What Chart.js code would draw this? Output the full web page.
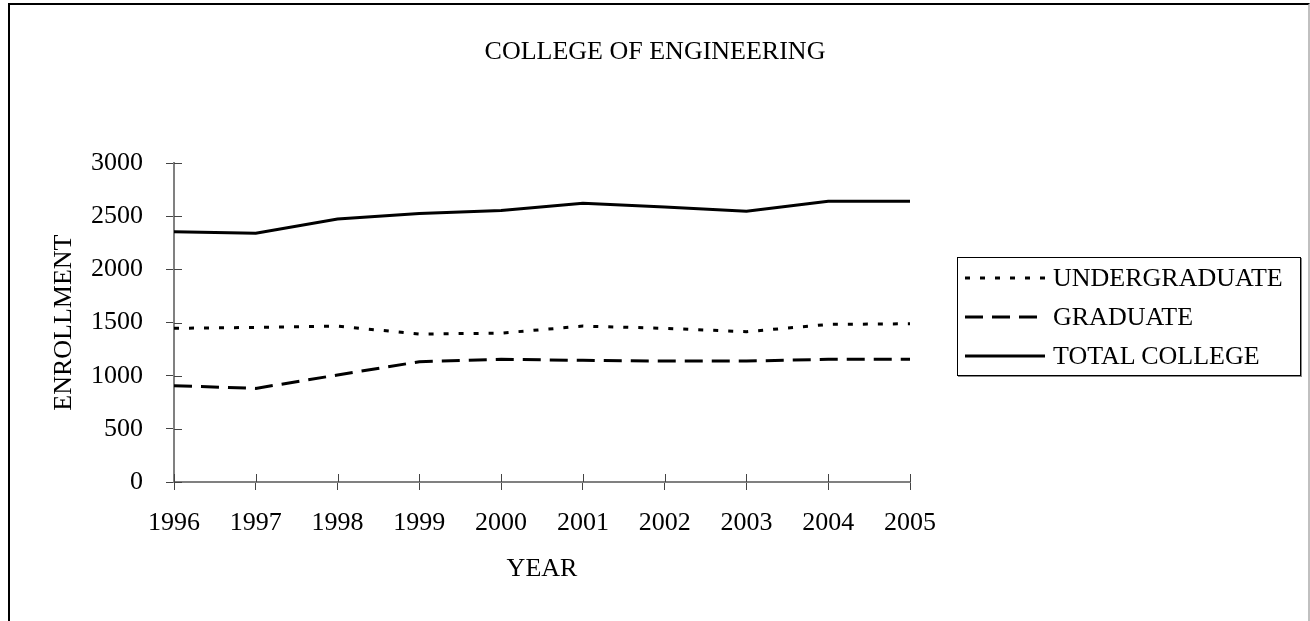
<!DOCTYPE html>
<html>
<head>
<meta charset="utf-8">
<script src="https://cdn.jsdelivr.net/npm/chart.js@4/dist/chart.umd.min.js"></script>
<style>
    html, body { margin: 0; padding: 0; background: #fff; overflow: hidden; }
    #wrap { position: relative; width: 1310px; height: 621px; }
    #frame {
        position: absolute; left: 8px; top: 3px; width: 1298px; height: 700px;
        border-left: 2px solid #000; border-top: 2px solid #000; border-right: 2px solid #c0c0c0;
    }
    #chart { position: absolute; left: 0; top: 0; }
    #legend {
        position: absolute; left: 957px; top: 257px; width: 342px; height: 117px;
        border: 1px solid #000; box-shadow: 1px 1px 0 #888; background: #fff;
        font-family: 'Liberation Serif', 'Times New Roman', serif; font-size: 26px; color: #000;
    }
    .item { position: absolute; left: 0; height: 30px; width: 100%; }
    .item svg { position: absolute; left: 7px; top: 0; }
    .item span { position: absolute; left: 95px; top: 0; line-height: 30px; white-space: nowrap; }
</style>
</head>
<body>
<div id="wrap">
    <div id="frame"></div>
    <canvas id="chart" width="1310" height="621"></canvas>
    <div id="legend"></div>
</div>
<script>
// chart data
const years = ['1996', '1997', '1998', '1999', '2000', '2001', '2002', '2003', '2004', '2005'];
const undergraduate = [1446, 1455, 1467, 1392, 1401, 1467, 1446, 1414, 1483, 1489];
const graduate = [906, 881, 1007, 1132, 1154, 1145, 1138, 1138, 1154, 1154];
const totalCollege = [2355, 2340, 2474, 2527, 2556, 2622, 2587, 2547, 2643, 2643];
const seriesNames = ['UNDERGRADUATE', 'GRADUATE', 'TOTAL COLLEGE'];
const seriesDash = [[5, 10], [18, 9], []];

const FONT = "'Liberation Serif', 'Times New Roman', serif";
Chart.defaults.font.family = FONT;
Chart.defaults.font.size = 26;
Chart.defaults.color = '#000';

// tick marks that cross the axis (inner half)
const innerTicks = {
    id: 'innerTicks',
    afterDraw(chart) {
        const ctx = chart.ctx;
        const x = chart.scales.x, y = chart.scales.y;
        ctx.save();
        ctx.strokeStyle = '#444';
        ctx.lineWidth = 1;
        ctx.beginPath();
        y.ticks.forEach((t, i) => {
            const py = Math.round(y.getPixelForTick(i)) + 0.5;
            ctx.moveTo(y.right, py);
            ctx.lineTo(y.right + 8, py);
        });
        x.ticks.forEach((t, i) => {
            const px = Math.round(x.getPixelForTick(i)) + 0.5;
            ctx.moveTo(px, x.top);
            ctx.lineTo(px, x.top - 8);
        });
        ctx.stroke();
        ctx.restore();
    }
};

const datasets = [undergraduate, graduate, totalCollege].map((values, i) => ({
    label: seriesNames[i],
    data: values,
    borderColor: '#000',
    borderWidth: 3,
    borderDash: seriesDash[i],
    borderCapStyle: 'butt',
    pointRadius: 0,
    tension: 0,
    fill: false
}));

const chart = new Chart(document.getElementById('chart'), {
    type: 'line',
    data: { labels: years, datasets: datasets },
    options: {
        responsive: false,
        animation: false,
        layout: { padding: 0 },
        plugins: {
            legend: { display: false },
            tooltip: { enabled: false },
            title: {
                display: true,
                text: 'COLLEGE OF ENGINEERING',
                color: '#000',
                font: { size: 26, weight: 'normal' },
                padding: { top: 37, bottom: 95 }
            }
        },
        scales: {
            x: {
                offset: false,
                grid: { display: true, drawOnChartArea: false, drawTicks: true, tickLength: 8, color: '#444', lineWidth: 1 },
                border: { color: '#808080', width: 2 },
                ticks: { padding: 18, maxRotation: 0, autoSkip: false, font: { size: 26 } },
                title: { display: true, text: 'YEAR', font: { size: 26 }, padding: { top: 36, bottom: 36 } },
                afterFit(scale) { scale.height = 139; }
            },
            y: {
                min: 0,
                max: 3000,
                ticks: { stepSize: 500, padding: 23, font: { size: 26 }, callback: v => String(v) },
                grid: { display: true, drawOnChartArea: false, drawTicks: true, tickLength: 8, color: '#444', lineWidth: 1 },
                border: { color: '#808080', width: 2 },
                title: { display: true, text: 'ENROLLMENT', font: { size: 26 }, padding: { top: 49, bottom: 49 } },
                afterFit(scale) { scale.width = 174; }
            },
            // empty space on the right where the legend sits
            yRight: {
                type: 'linear',
                position: 'right',
                display: true,
                grid: { display: false },
                border: { display: false },
                ticks: { display: false },
                afterFit(scale) { scale.width = 400; }
            }
        }
    },
    plugins: [innerTicks]
});

// legend box
const legendTops = [5, 44, 83];
const legendSampleWidth = [80, 74, 80];
document.getElementById('legend').innerHTML = seriesNames.map((name, i) => `
    <div class="item" style="top:${legendTops[i]}px">
        <svg width="84" height="30"><line x1="0" y1="15" x2="${legendSampleWidth[i]}" y2="15" stroke="#000" stroke-width="3" stroke-dasharray="${seriesDash[i].join(' ') || 'none'}"/></svg>
        <span>${name}</span>
    </div>
`).join('');
</script>
</body>
</html>
